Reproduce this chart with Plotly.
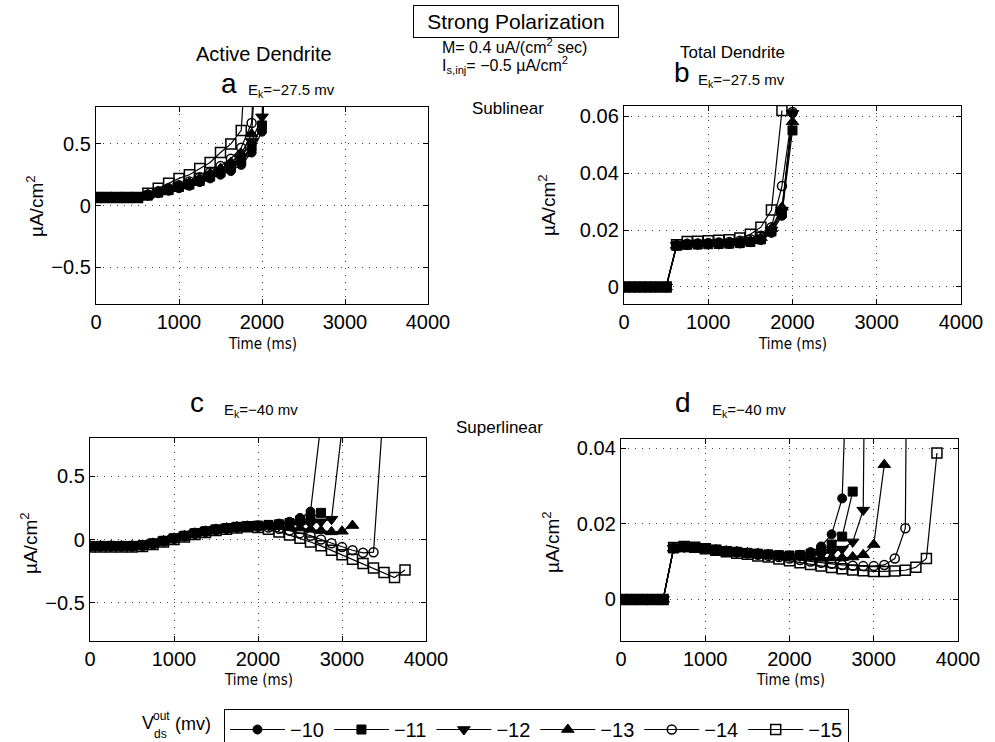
import plotly.graph_objects as go

# ---------------- data ----------------
TIME_MS = [0, 125, 250, 375, 500, 625, 750, 875, 1000, 1125, 1250, 1375, 1500,
           1625, 1750, 1875, 2000, 2125, 2250, 2375, 2500, 2625, 2750, 2875,
           3000, 3125, 3250, 3375, 3500, 3625, 3750, 3875]

VDS_LABELS = ["\u221210", "\u221211", "\u221212", "\u221213", "\u221214", "\u221215"]

# panel a : active dendrite, Ek = -27.5 mV
A_M10 = [0.065, 0.065, 0.065, 0.065, 0.065, 0.08, 0.10, 0.12, 0.14, 0.16, 0.19, 0.22, 0.25, 0.28, 0.33, 0.43, 0.60, 2.0]
A_M11 = [0.065, 0.065, 0.065, 0.065, 0.065, 0.08, 0.105, 0.125, 0.15, 0.17, 0.20, 0.235, 0.27, 0.31, 0.37, 0.48, 0.65, 2.0]
A_M12 = [0.065, 0.065, 0.065, 0.065, 0.065, 0.085, 0.11, 0.13, 0.155, 0.18, 0.21, 0.245, 0.285, 0.33, 0.39, 0.52, 0.72, 2.5]
A_M13 = [0.065, 0.065, 0.065, 0.065, 0.065, 0.085, 0.11, 0.135, 0.16, 0.185, 0.22, 0.26, 0.30, 0.35, 0.42, 0.58, 2.0]
A_M14 = [0.065, 0.065, 0.065, 0.065, 0.065, 0.09, 0.115, 0.14, 0.165, 0.195, 0.23, 0.27, 0.32, 0.38, 0.47, 0.67, 2.5]
A_M15 = [0.065, 0.065, 0.065, 0.065, 0.065, 0.10, 0.14, 0.18, 0.22, 0.25, 0.30, 0.35, 0.43, 0.50, 0.61, 2.0]

# panel b : total dendrite, Ek = -27.5 mV
B_M10 = [0, 0, 0, 0, 0, 0.0145, 0.0148, 0.0149, 0.0150, 0.0150, 0.0151, 0.0153, 0.0157, 0.0165, 0.0190, 0.0250, 0.0610]
B_M11 = [0, 0, 0, 0, 0, 0.0145, 0.0148, 0.0149, 0.0150, 0.0151, 0.0152, 0.0154, 0.0158, 0.0167, 0.0195, 0.0260, 0.0550]
B_M12 = [0, 0, 0, 0, 0, 0.0146, 0.0149, 0.0150, 0.0151, 0.0152, 0.0153, 0.0156, 0.0160, 0.0170, 0.0200, 0.0270, 0.0610]
B_M13 = [0, 0, 0, 0, 0, 0.0146, 0.0150, 0.0151, 0.0152, 0.0153, 0.0155, 0.0158, 0.0163, 0.0173, 0.0205, 0.0280, 0.0580]
B_M14 = [0, 0, 0, 0, 0, 0.0147, 0.0152, 0.0153, 0.0154, 0.0156, 0.0158, 0.0162, 0.0168, 0.0180, 0.0210, 0.0355, 0.0615]
B_M15 = [0, 0, 0, 0, 0, 0.0148, 0.0160, 0.0161, 0.0162, 0.0164, 0.0166, 0.0172, 0.0185, 0.0210, 0.0270, 0.0620]

# panel c : active dendrite, Ek = -40 mV
C_M10 = [-0.05, -0.05, -0.05, -0.05, -0.05, -0.045, -0.03, -0.01, 0.01, 0.03, 0.05, 0.065, 0.08, 0.09, 0.10, 0.105, 0.11, 0.115, 0.125, 0.14, 0.17, 0.22, 0.92]
C_M11 = [-0.05, -0.05, -0.05, -0.05, -0.05, -0.045, -0.03, -0.01, 0.01, 0.03, 0.05, 0.065, 0.08, 0.09, 0.10, 0.105, 0.11, 0.115, 0.12, 0.13, 0.15, 0.17, 0.21]
C_M12 = [-0.05, -0.05, -0.05, -0.05, -0.05, -0.045, -0.03, -0.01, 0.01, 0.03, 0.05, 0.065, 0.08, 0.09, 0.10, 0.105, 0.11, 0.11, 0.11, 0.115, 0.12, 0.125, 0.14, 0.16, 0.87]
C_M13 = [-0.05, -0.05, -0.05, -0.05, -0.05, -0.045, -0.03, -0.01, 0.01, 0.03, 0.05, 0.065, 0.08, 0.09, 0.10, 0.105, 0.105, 0.105, 0.10, 0.095, 0.09, 0.08, 0.07, 0.06, 0.065, 0.11]
C_M14 = [-0.055, -0.055, -0.055, -0.055, -0.055, -0.05, -0.035, -0.015, 0.005, 0.025, 0.045, 0.06, 0.075, 0.085, 0.095, 0.10, 0.10, 0.095, 0.085, 0.07, 0.05, 0.03, 0.0, -0.03, -0.06, -0.085, -0.105, -0.10, 1.1]
C_M15 = [-0.06, -0.06, -0.06, -0.06, -0.06, -0.055, -0.04, -0.02, 0.0, 0.02, 0.04, 0.055, 0.07, 0.08, 0.09, 0.10, 0.095, 0.08, 0.06, 0.035, 0.01, -0.02, -0.05, -0.085, -0.12, -0.155, -0.19, -0.225, -0.26, -0.30, -0.24]

# panel d : total dendrite, Ek = -40 mV
D_M10 = [0, 0, 0, 0, 0, 0.0135, 0.0138, 0.0137, 0.0134, 0.0131, 0.0128, 0.0126, 0.0123, 0.0121, 0.0119, 0.0117, 0.0116, 0.0118, 0.0125, 0.0140, 0.0172, 0.0267, 0.108]
D_M11 = [0, 0, 0, 0, 0, 0.0135, 0.0138, 0.0137, 0.0134, 0.0131, 0.0128, 0.0126, 0.0123, 0.0121, 0.0119, 0.0117, 0.0116, 0.0117, 0.0121, 0.0130, 0.0145, 0.0166, 0.0285]
D_M12 = [0, 0, 0, 0, 0, 0.0135, 0.0138, 0.0137, 0.0134, 0.0131, 0.0128, 0.0126, 0.0123, 0.0121, 0.0119, 0.0116, 0.0114, 0.0114, 0.0115, 0.0118, 0.0125, 0.0133, 0.0152, 0.0236, 0.32]
D_M13 = [0, 0, 0, 0, 0, 0.0135, 0.0138, 0.0137, 0.0134, 0.0131, 0.0128, 0.0126, 0.0123, 0.0121, 0.0118, 0.0115, 0.0113, 0.0112, 0.0111, 0.0110, 0.0110, 0.0110, 0.0112, 0.0118, 0.0145, 0.0356]
D_M14 = [0, 0, 0, 0, 0, 0.0136, 0.0139, 0.0138, 0.0134, 0.0130, 0.0127, 0.0124, 0.0121, 0.0118, 0.0115, 0.0112, 0.0108, 0.0104, 0.0100, 0.0097, 0.0094, 0.0091, 0.0089, 0.0088, 0.0088, 0.0091, 0.0108, 0.0188, 0.39]
D_M15 = [0, 0, 0, 0, 0, 0.0137, 0.0140, 0.0138, 0.0134, 0.0130, 0.0126, 0.0122, 0.0119, 0.0115, 0.0112, 0.0107, 0.0102, 0.0097, 0.0092, 0.0088, 0.0084, 0.0081, 0.0078, 0.0076, 0.0074, 0.0074, 0.0075, 0.0077, 0.0085, 0.0108, 0.0387]

PANELS = [
    ("x", "y", [A_M10, A_M11, A_M12, A_M13, A_M14, A_M15]),
    ("x2", "y2", [B_M10, B_M11, B_M12, B_M13, B_M14, B_M15]),
    ("x3", "y3", [C_M10, C_M11, C_M12, C_M13, C_M14, C_M15]),
    ("x4", "y4", [D_M10, D_M11, D_M12, D_M13, D_M14, D_M15]),
]

X_TICKS = [0, 1000, 2000, 3000, 4000]
Y_TICKS_ACTIVE = [-0.5, 0, 0.5]
Y_TICKTEXT_ACTIVE = ["\u22120.5", "0", "0.5"]
Y_TICKS_B = [0, 0.02, 0.04, 0.06]
Y_TICKS_D = [0, 0.02, 0.04]

# ---------------- styling ----------------
W, H = 995, 742
FONT = "Liberation Sans, Arial, Helvetica, sans-serif"
NARROW = "Liberation Sans Narrow, Arial Narrow, DejaVu Sans Condensed, sans-serif"

MARKERS = [
    dict(symbol="circle", size=9, color="black", line=dict(color="black", width=1)),
    dict(symbol="square", size=9, color="black", line=dict(color="black", width=1)),
    dict(symbol="triangle-down", size=11, color="black", line=dict(color="black", width=1)),
    dict(symbol="triangle-up", size=11, color="black", line=dict(color="black", width=1)),
    dict(symbol="circle-open", size=9, color="black", line=dict(color="black", width=1.5)),
    dict(symbol="square-open", size=10, color="black", line=dict(color="black", width=1.5)),
]


def px(x):
    return x / W


def py(y):
    return 1 - y / H


fig = go.Figure()
for pi, (xa, ya, series) in enumerate(PANELS):
    for si, vals in enumerate(series):
        fig.add_trace(go.Scatter(
            x=TIME_MS[:len(vals)], y=vals, xaxis=xa, yaxis=ya,
            mode="lines+markers", name=VDS_LABELS[si],
            line=dict(color="black", width=1.2),
            marker=MARKERS[si],
            showlegend=(pi == 0),
        ))

# axis domains in pixels: (left, right, top, bottom)
BOXES = {
    "": (96, 428, 107, 304),
    "2": (624, 961, 106, 304),
    "3": (90, 426, 438, 641),
    "4": (621, 958, 439, 641),
}
YR = {"": [-0.8, 0.8], "2": [-0.006, 0.0636], "3": [-0.8, 0.8], "4": [-0.011, 0.0424]}
YT = {"": (Y_TICKS_ACTIVE, Y_TICKTEXT_ACTIVE), "2": (Y_TICKS_B, ["0", "0.02", "0.04", "0.06"]),
      "3": (Y_TICKS_ACTIVE, Y_TICKTEXT_ACTIVE), "4": (Y_TICKS_D, ["0", "0.02", "0.04"])}

common = dict(showline=True, linecolor="black", linewidth=1.4, mirror="ticks",
              ticks="inside", ticklen=5, tickcolor="black", tickwidth=1,
              showgrid=True, gridcolor="#444", gridwidth=1, griddash="1px,6px",
              zeroline=False, tickfont=dict(family=FONT, size=20, color="black"))

lay = {}
for k, (l, r, t, b) in BOXES.items():
    lay["xaxis" + k] = dict(domain=[px(l), px(r)], range=[0, 4000], tickvals=X_TICKS,
                            anchor="y" + k, **common)
    lay["yaxis" + k] = dict(domain=[py(b), py(t)], range=YR[k], tickvals=YT[k][0],
                            ticktext=YT[k][1], anchor="x" + k, **common)
fig.update_layout(**lay)


def ann(text, x, y, size, xanchor="center", yanchor="middle", family=FONT, angle=0, **kw):
    fig.add_annotation(text=text, x=px(x), y=py(y), xref="paper", yref="paper",
                       xanchor=xanchor, yanchor=yanchor, showarrow=False, textangle=angle,
                       font=dict(family=family, size=size, color="black"), **kw)


ann("Strong Polarization", 516, 22, 21, width=204, height=31, bordercolor="black",
    borderwidth=1, borderpad=0)
ann("Active Dendrite", 264, 54, 20)
ann("Total Dendrite", 732, 53, 17)
ann("M= 0.4 uA/(cm<sup>2</sup> sec)", 440, 46, 16, xanchor="left")
ann("I<sub>s,inj</sub>= \u22120.5 \u00b5A/cm<sup>2</sup>", 440, 65, 16, xanchor="left")
ann("a", 229, 84, 28)
ann("E<sub>k</sub>=\u221227.5 mv", 246, 90, 15, xanchor="left")
ann("b", 682, 72, 28)
ann("E<sub>k</sub>=\u221227.5 mv", 696, 80, 15, xanchor="left")
ann("Sublinear", 508, 109, 17)
ann("c", 197, 402, 28)
ann("E<sub>k</sub>=\u221240 mv", 222, 410, 15, xanchor="left")
ann("Superlinear", 500, 428, 17)
ann("d", 683, 402, 28)
ann("E<sub>k</sub>=\u221240 mv", 710, 410, 15, xanchor="left")

for (xx, yy) in [(35, 206), (547, 205), (29, 543), (551, 542)]:
    ann("\u00b5A/cm<sup>2</sup>", xx, yy, 19, angle=-90)
for (xx, yy) in [(262, 344), (792, 344), (258, 680), (790, 680)]:
    ann("Time (ms)", xx, yy, 15, family=NARROW)

# legend caption V_ds^out (mv)
ann("V", 140, 723, 18, xanchor="left")
ann("out", 151, 716, 12, xanchor="left")
ann("ds", 152, 734, 12, xanchor="left")
ann("(mv)", 173, 724, 18, xanchor="left")

fig.update_layout(
    width=W, height=H, margin=dict(l=0, r=0, t=0, b=0, autoexpand=False),
    paper_bgcolor="white", plot_bgcolor="white",
    font=dict(family=FONT, color="black"),
    legend=dict(orientation="h", x=px(224), y=py(709), xanchor="left", yanchor="top",
                bordercolor="black", borderwidth=1, bgcolor="white",
                font=dict(family=FONT, size=20, color="black"),
                itemwidth=55, itemclick=False, itemdoubleclick=False,
                tracegroupgap=0),
)

fig.write_html("out.html")
